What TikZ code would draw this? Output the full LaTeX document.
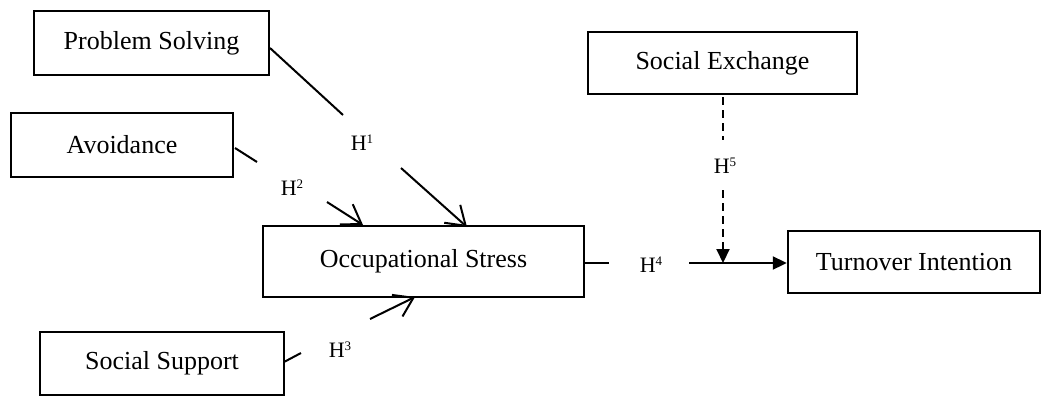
\documentclass[tikz,border=0pt]{standalone}
\usepackage{fontspec}
\setmainfont{Liberation Serif}
\usetikzlibrary{arrows.meta}
\newcommand{\hyp}[1]{H\raisebox{7pt}{\fontsize{13}{13}\selectfont #1}}
\tikzset{
  box/.style={draw, line width=2.4pt, inner sep=0pt, font=\fontsize{26}{30}\selectfont},
  hlab/.style={inner sep=0pt, font=\fontsize{22}{24}\selectfont},
  link/.style={line width=2pt},
  openarr/.style={link, -{Straight Barb[length=18pt,width=24pt,line width=2pt]}},
  fillarr/.style={link, -{Triangle[length=14pt,width=13pt]}},
  dashlink/.style={link, dash pattern=on 8pt off 5pt}
}
\begin{document}
\begin{tikzpicture}[x=1pt,y=-1pt]
\useasboundingbox (0,0) rectangle (1044,397);
% boxes
\node[box, minimum width=235pt, minimum height=64pt] (ps) at (151.5,43) {Problem Solving};
\node[box, minimum width=222pt, minimum height=64pt] (av) at (122,145) {Avoidance};
\node[box, minimum width=321pt, minimum height=71pt] (os) at (423.5,261.5) {Occupational Stress};
\node[box, minimum width=244pt, minimum height=63pt] (ss) at (162,363.5) {Social Support};
\node[box, minimum width=269pt, minimum height=62pt] (se) at (722.5,63) {Social Exchange};
\node[box, minimum width=252pt, minimum height=62pt] (ti) at (914,262) {Turnover Intention};
% labels
\node[hlab] (h1) at (362,143) {\hyp{1}};
\node[hlab] (h2) at (292,188) {\hyp{2}};
\node[hlab] (h3) at (340,350) {\hyp{3}};
\node[hlab] (h4) at (651,265) {\hyp{4}};
\node[hlab] (h5) at (725,166) {\hyp{5}};
% segment end points
\coordinate (a1) at (270,48);  \coordinate (b1) at (343,115);
\coordinate (c1) at (401,168); \coordinate (d1) at (467,227);
\coordinate (a2) at (235,148); \coordinate (b2) at (257,162);
\coordinate (c2) at (327,202); \coordinate (d2) at (363,225);
\coordinate (a3) at (284,362); \coordinate (b3) at (301,353);
\coordinate (c3) at (370,319); \coordinate (d3) at (415,297);
\coordinate (b4) at (609,263); \coordinate (c4) at (689,263);
\coordinate (a5) at (723,97);  \coordinate (b5) at (723,140);
\coordinate (c5) at (723,190); \coordinate (d5) at (723,263);
% connectors
\draw[link] (a1) -- (b1);
\draw[openarr] (c1) -- (d1);
\draw[link] (a2) -- (b2);
\draw[openarr] (c2) -- (d2);
\draw[link] (a3) -- (b3);
\draw[openarr] (c3) -- (d3);
\draw[link] (os.east |- b4) -- (b4);
\draw[fillarr] (c4) -- (ti.west |- c4);
\draw[dashlink] (a5) -- (b5);
\draw[dashlink, -{Triangle[length=14pt,width=13pt]}] (c5) -- (d5);
\end{tikzpicture}
\end{document}
